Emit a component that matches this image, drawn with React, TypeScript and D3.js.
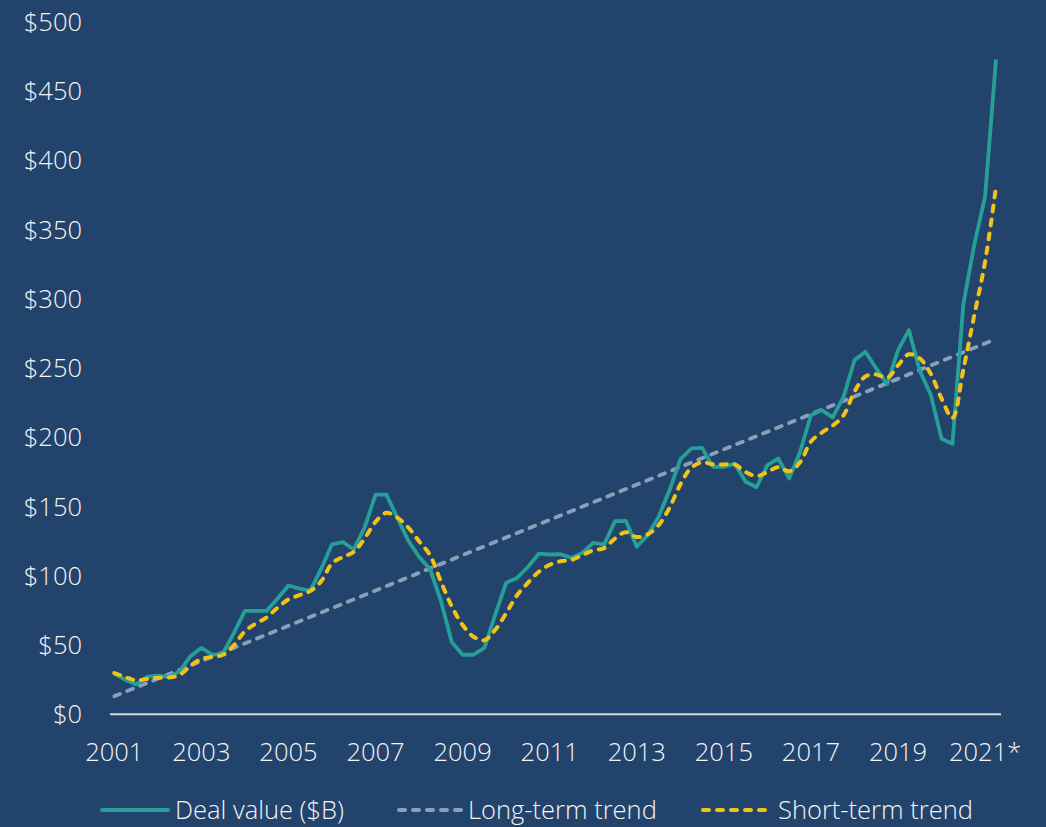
import React, {useEffect, useRef} from 'react';
import * as d3 from 'd3';

const WIDTH = 1046;
const HEIGHT = 827;

const BG = '#22436b';
const TEAL = '#26a096';
const YELLOW = '#f2c316';
const GRAY = '#8c9fb8';
const TEXT = '#f4f4f4';

// quarterly points, 2001 Q1 .. 2021 Q2
const quarters: string[] = d3.range(2001, 2022)
    .flatMap(y => ['Q1', 'Q2', 'Q3', 'Q4'].map(q => `${y} ${q}`))
    .slice(0, 82);

// deal value, $B
const dealValue = [
    29.4, 25, 21.5, 27, 28, 27, 31, 42, 48, 43,
    44, 59, 74.7, 74.7, 74.7, 83.6, 93, 90.8, 89.3, 105,
    122.8, 124.3, 119, 135, 158.6, 158.6, 142, 125.5, 113.7, 105,
    82, 52.2, 43, 43, 47.9, 72, 95, 98.5, 106.4, 116,
    115.4, 115.6, 113, 116.6, 123.8, 122.6, 139.5, 139.7, 121, 129.3,
    142.6, 161.8, 184, 192, 192.4, 178.7, 178.7, 181, 168, 164,
    180, 184.7, 170.3, 189.5, 216, 219.7, 214.4, 229.3, 255.8, 261.8,
    249.8, 238.4, 263, 277.5, 248, 231, 199, 195.3, 296, 339,
    374, 473,
];

const shortTermTrend = [
    29.8, 27, 24.5, 25.5, 26.3, 26.5, 28.5, 35, 40, 41.5,
    43, 50, 60, 65.5, 70, 77, 83, 86, 89, 96,
    109, 113.7, 117.3, 127, 139, 145.5, 142, 135, 125, 115,
    96, 78, 64.5, 56, 53.5, 61, 73, 86, 95, 103,
    108, 110.5, 111.5, 115, 118.5, 120, 127, 131.5, 128, 130,
    136.5, 149, 166, 178, 182, 180.5, 180.5, 180.4, 175, 172,
    175, 178.5, 175.5, 182, 197, 203.5, 208.5, 216, 233, 244,
    245.5, 243, 252, 260, 257, 246, 228, 214, 249, 288,
    327, 381,
];

// straight line: first and last quarter
const longTermTrend = [
    {i: 0, v: 13},
    {i: 81, v: 271},
];

const yTicks = [0, 50, 100, 150, 200, 250, 300, 350, 400, 450, 500];
const xTickYears = [2001, 2003, 2005, 2007, 2009, 2011, 2013, 2015, 2017, 2019, 2021];
const xTickLabels = ['2001', '2003', '2005', '2007', '2009', '2011', '2013', '2015', '2017', '2019', '2021*'];

const legendItems = [
    {label: 'Deal value ($B)', color: TEAL, dash: null, x: 100, len: 68},
    {label: 'Long-term trend', color: GRAY, dash: '6,8', x: 397, len: 64},
    {label: 'Short-term trend', color: YELLOW, dash: '6,8', x: 701, len: 70},
];

const FONT = '"Open Sans", "Noto Sans", sans-serif';
const FONT_SIZE = 25.5;

const DealChart = () => {
    const svgRef = useRef<SVGSVGElement>(null);

    useEffect(() => {
        const svg = d3.select(svgRef.current);
        svg.selectAll('*').remove();

        svg.append('rect')
            .attr('width', WIDTH)
            .attr('height', HEIGHT)
            .attr('fill', BG);

        const x = d3.scaleLinear().domain([0, quarters.length - 1]).range([114.3, 996]);
        const y = d3.scaleLinear().domain([0, 500]).range([714.3, 22]);

        // y labels
        svg.append('g')
            .selectAll('text')
            .data(yTicks)
            .join('text')
            .attr('x', 82)
            .attr('y', d => y(d))
            .attr('dy', '0.35em')
            .attr('text-anchor', 'end')
            .attr('fill', TEXT)
            .style('font', `300 ${FONT_SIZE}px ${FONT}`)
            .text(d => `$${d}`);

        // baseline
        svg.append('line')
            .attr('x1', 110)
            .attr('x2', 1001)
            .attr('y1', y(0))
            .attr('y2', y(0))
            .attr('stroke', '#d9d9d9')
            .attr('stroke-width', 2);

        // x labels
        svg.append('g')
            .selectAll('text')
            .data(xTickYears)
            .join('text')
            .attr('x', d => x((d - 2001) * 4))
            .attr('y', 752)
            .attr('dy', '0.35em')
            .attr('text-anchor', 'middle')
            .attr('fill', TEXT)
            .style('font', `300 ${FONT_SIZE}px ${FONT}`)
            .text((d, i) => xTickLabels[i]);

        // long-term trend
        const trendLine = d3.line<{i: number, v: number}>()
            .x(d => x(d.i))
            .y(d => y(d.v));
        svg.append('path')
            .datum(longTermTrend)
            .attr('d', trendLine)
            .attr('fill', 'none')
            .attr('stroke', GRAY)
            .attr('stroke-width', 3.8)
            .attr('stroke-dasharray', '6,8')
            .attr('stroke-linecap', 'round');

        // deal value
        const valueLine = d3.line<number>()
            .x((d, i) => x(i))
            .y(d => y(d));
        svg.append('path')
            .datum(dealValue)
            .attr('d', valueLine)
            .attr('fill', 'none')
            .attr('stroke', TEAL)
            .attr('stroke-width', 3.8)
            .attr('stroke-linejoin', 'round');

        // short-term trend, smoothed
        const smoothLine = d3.line<number>()
            .x((d, i) => x(i))
            .y(d => y(d))
            .curve(d3.curveCatmullRom.alpha(0.5));
        svg.append('path')
            .datum(shortTermTrend)
            .attr('d', smoothLine)
            .attr('fill', 'none')
            .attr('stroke', YELLOW)
            .attr('stroke-width', 4)
            .attr('stroke-dasharray', '6,8')
            .attr('stroke-linecap', 'round');

        // legend
        const legend = svg.append('g').attr('transform', 'translate(0,810)');
        const item = legend.selectAll('g')
            .data(legendItems)
            .join('g')
            .attr('transform', d => `translate(${d.x},0)`);
        item.append('line')
            .attr('x1', 2)
            .attr('x2', d => d.len)
            .attr('stroke', d => d.color)
            .attr('stroke-width', 4)
            .attr('stroke-dasharray', d => d.dash)
            .attr('stroke-linecap', 'round');
        item.append('text')
            .attr('x', d => d.len + 7)
            .attr('dy', '0.35em')
            .attr('fill', TEXT)
            .style('font', `300 ${FONT_SIZE}px ${FONT}`)
            .text(d => d.label);
    }, []);

    return <svg ref={svgRef} width={WIDTH} height={HEIGHT} style={{display: 'block'}}/>;
};

export default function App() {
    return (
        <div style={{position: 'absolute', top: 0, left: 0}}>
            <DealChart/>
        </div>
    );
}
